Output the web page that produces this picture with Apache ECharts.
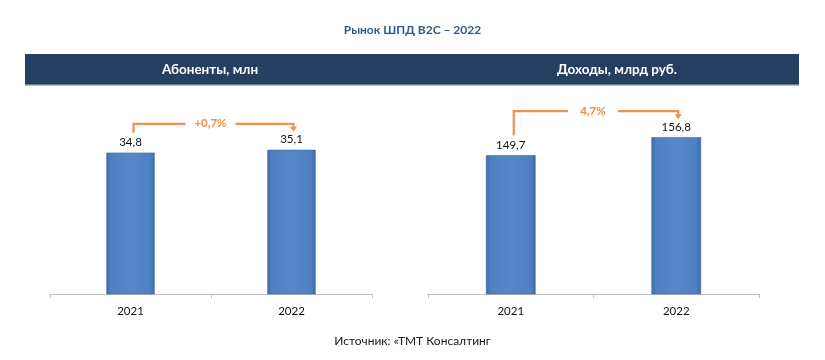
<!DOCTYPE html>
<html>
<head>
<meta charset="utf-8">
<script src="https://cdn.jsdelivr.net/npm/echarts@6/dist/echarts.min.js"></script>
<style>
  html, body { margin: 0; padding: 0; background: #ffffff; }
  #chart { width: 825px; height: 360px; }
</style>
</head>
<body>
<div id="chart"></div>
<script>
const categories = ['2021', '2022'];
const subscribers = [34.8, 35.1];
const revenue = [149.7, 156.8];
const growthLabels = ['+0,7%', '4,7%'];
const panelTitles = ['Абоненты, млн', 'Доходы, млрд руб.'];
const mainTitle = 'Рынок ШПД B2C – 2022';
const sourceText = 'Источник: «ТМТ Консалтинг';

const FONT = 'Lato, "Open Sans", sans-serif';
const ORANGE = '#F0914F';

const barColor = {
  type: 'linear', x: 0, y: 0, x2: 1, y2: 0,
  colorStops: [
    { offset: 0, color: '#3E6DA9' },
    { offset: 0.1, color: '#4F81C2' },
    { offset: 0.5, color: '#5588C8' },
    { offset: 0.9, color: '#4F81C2' },
    { offset: 1, color: '#3E6DA9' }
  ]
};

function fmt(v) { return String(v).replace('.', ','); }

function bracketRenderer(label) {
  return function (params, api) {
    const a = api.coord([api.value(0), api.value(1)]);
    const b = api.coord([api.value(2), api.value(3)]);
    const x1 = a[0] + 3, x2 = b[0] + 2;
    const yTop = Math.min(a[1], b[1]) - 26;
    const y1 = a[1] - 20;
    const y2 = b[1] - 18;
    const mid = (x1 + x2) / 2 - 3;
    const gap = 25;
    const st = { stroke: ORANGE, lineWidth: 2.2, fill: null };
    return {
      type: 'group',
      children: [
        { type: 'polyline', shape: { points: [[x1, y1], [x1, yTop], [mid - gap, yTop]] }, style: st },
        { type: 'polyline', shape: { points: [[mid + gap, yTop], [x2, yTop], [x2, y2 - 4]] }, style: st },
        { type: 'polygon', shape: { points: [[x2 - 3.5, y2 - 5], [x2 + 3.5, y2 - 5], [x2, y2]] }, style: { fill: ORANGE } },
        { type: 'text', x: mid, y: yTop, style: { text: label, fill: ORANGE, fontFamily: FONT, fontSize: 11.5, fontWeight: 900, textAlign: 'center', textVerticalAlign: 'middle' } }
      ]
    };
  };
}

function barSeries(idx, data) {
  return {
    type: 'bar', xAxisIndex: idx, yAxisIndex: idx,
    data: data, barWidth: '30%',
    itemStyle: { color: barColor, borderColor: '#3A68A3', borderWidth: 0.6 },
    label: { show: true, position: 'top', distance: 4, color: '#111', fontFamily: FONT, fontSize: 11.5, formatter: p => fmt(p.value) }
  };
}

const xAxisBase = {
  type: 'category', data: categories,
  axisLine: { lineStyle: { color: '#BFBFBF', width: 1 } },
  axisTick: { show: true, length: 4, lineStyle: { color: '#BFBFBF' } },
  axisLabel: { color: '#111', fontFamily: FONT, fontSize: 11.5, margin: 11 }
};

const chart = echarts.init(document.getElementById('chart'), null, { renderer: 'canvas' });
chart.setOption({
  backgroundColor: '#ffffff',
  animation: false,
  title: [
    { text: mainTitle, left: 'center', top: 19, textStyle: { color: '#2E5B8E', fontFamily: FONT, fontSize: 12, fontWeight: 'bold' } },
    { text: sourceText, left: 'center', top: 330, textStyle: { color: '#1a1a1a', fontFamily: FONT, fontSize: 12, fontWeight: 'normal' } }
  ],
  graphic: [
    { type: 'rect', left: 25, top: 54, shape: { width: 774, height: 31 }, style: { fill: '#253F60' }, z: -1 },
    { type: 'rect', left: 25, top: 84, shape: { width: 774, height: 1.5 }, style: { fill: '#6b7f97' }, z: -1 },
    { type: 'text', x: 210, y: 70, style: { text: panelTitles[0], fill: '#ffffff', fontFamily: FONT, fontSize: 13.5, fontWeight: 'bold', textAlign: 'center', textVerticalAlign: 'middle' } },
    { type: 'text', x: 617, y: 70, style: { text: panelTitles[1], fill: '#ffffff', fontFamily: FONT, fontSize: 13.5, fontWeight: 'bold', textAlign: 'center', textVerticalAlign: 'middle' } }
  ],
  grid: [
    { left: 50, right: 453, top: 103, bottom: 66 },
    { left: 428, right: 66, top: 91, bottom: 66 }
  ],
  xAxis: [
    Object.assign({ gridIndex: 0 }, xAxisBase),
    Object.assign({ gridIndex: 1 }, xAxisBase)
  ],
  yAxis: [
    { gridIndex: 0, type: 'value', min: 20, max: 40, show: false, splitLine: { show: false } },
    { gridIndex: 1, type: 'value', min: 95, max: 175, show: false, splitLine: { show: false } }
  ],
  series: [
    barSeries(0, subscribers),
    barSeries(1, revenue),
    {
      type: 'custom', xAxisIndex: 0, yAxisIndex: 0, silent: true, z: 5,
      data: [[0, subscribers[0], 1, subscribers[1]]],
      encode: { x: 0, y: 1 },
      renderItem: bracketRenderer(growthLabels[0])
    },
    {
      type: 'custom', xAxisIndex: 1, yAxisIndex: 1, silent: true, z: 5,
      data: [[0, revenue[0], 1, revenue[1]]],
      encode: { x: 0, y: 1 },
      renderItem: bracketRenderer(growthLabels[1])
    }
  ]
});
</script>
</body>
</html>
